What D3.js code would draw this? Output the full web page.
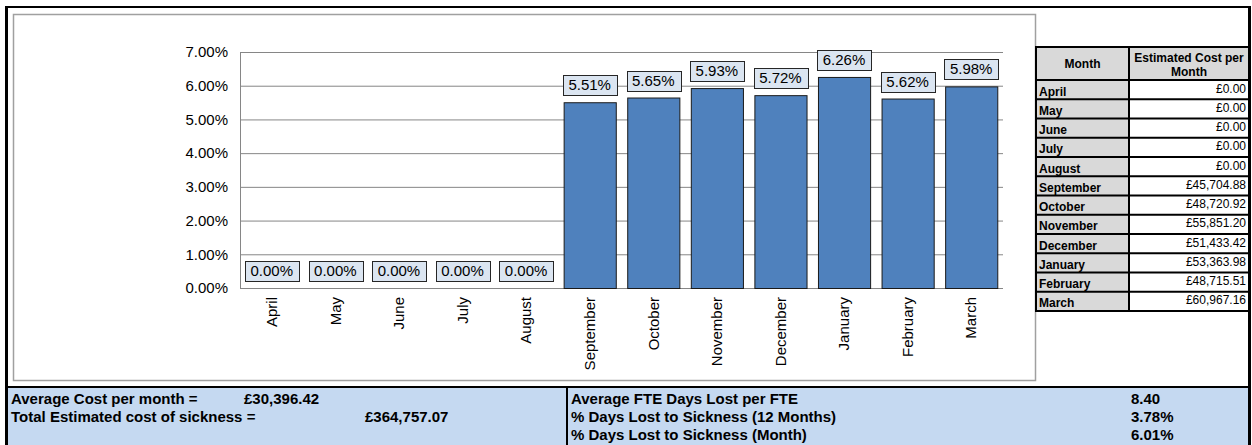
<!DOCTYPE html>
<html>
<head>
<meta charset="utf-8">
<script src="https://cdn.jsdelivr.net/npm/d3@7"></script>
<style>
  html, body { margin: 0; padding: 0; background: #fff; }
  svg { display: block; font-family: "Liberation Sans", Arial, sans-serif; }
</style>
</head>
<body>
<svg id="chart" width="1252" height="445"></svg>
<script>
// ---- data ----
const months = ["April","May","June","July","August","September","October","November","December","January","February","March"];
const sicknessPct = [0, 0, 0, 0, 0, 5.51, 5.65, 5.93, 5.72, 6.26, 5.62, 5.98];
const yTicks = [0, 1, 2, 3, 4, 5, 6, 7];
const monthlyCost = [0, 0, 0, 0, 0, 45704.88, 48720.92, 55851.20, 51433.42, 53363.98, 48715.51, 60967.16];
const tableHeaders = ["Month", ["Estimated Cost per", "Month"]];
const summaryLeftLabels = ["Average Cost per month =", "Total Estimated cost of sickness ="];
const summaryLeftValues = ["£30,396.42", "£364,757.07"];
const summaryRightLabels = ["Average FTE Days Lost per FTE", "% Days Lost to Sickness (12 Months)", "% Days Lost to Sickness (Month)"];
const summaryRightValues = ["8.40", "3.78%", "6.01%"];

const data = months.map((m, i) => ({ month: m, pct: sicknessPct[i], cost: monthlyCost[i] }));

const svg = d3.select("#chart");

// ---- frame ----
svg.append("rect").attr("x", 0).attr("y", 0).attr("width", 1252).attr("height", 445).attr("fill", "#fff");
// chart area
svg.append("rect").attr("x", 13.5).attr("y", 14.5).attr("width", 1022).attr("height", 366)
  .attr("fill", "#fff").attr("stroke", "#a0a0a0").attr("stroke-width", 1.5);

// ---- plot ----
const plot = { left: 240, right: 1003, top: 52, bottom: 288 };
const x = d3.scaleBand().domain(months).range([plot.left, plot.right]).paddingInner(0.18).paddingOuter(0.09);
const y = d3.scaleLinear().domain([0, 7]).range([plot.bottom, plot.top]);

// gridlines
svg.append("g")
  .attr("transform", `translate(${plot.left},0)`)
  .call(d3.axisLeft(y).tickValues(yTicks.filter(t => t > 0)).tickSize(-(plot.right - plot.left)).tickFormat(""))
  .call(g => g.select(".domain").remove())
  .call(g => g.selectAll("line").attr("stroke", "#868686").attr("stroke-width", 1));

// y axis labels
svg.append("g")
  .attr("transform", `translate(${plot.left},0)`)
  .call(d3.axisLeft(y).tickValues(yTicks).tickSize(0).tickPadding(12).tickFormat(d => d.toFixed(2) + "%"))
  .call(g => g.select(".domain").remove())
  .call(g => g.selectAll("text").attr("font-size", 15).attr("fill", "#000").attr("font-family", "Liberation Sans, Arial, sans-serif"));

// axis lines
svg.append("line").attr("x1", plot.left + 0.5).attr("x2", plot.left + 0.5).attr("y1", plot.top).attr("y2", plot.bottom)
  .attr("stroke", "#868686");
svg.append("line").attr("x1", plot.left).attr("x2", plot.right).attr("y1", plot.bottom + 0.5).attr("y2", plot.bottom + 0.5)
  .attr("stroke", "#868686");

// bars
svg.append("g").selectAll("rect").data(data).join("rect")
  .attr("x", d => x(d.month) + 0.5)
  .attr("y", d => y(d.pct) + 0.5)
  .attr("width", x.bandwidth())
  .attr("height", d => Math.max(0, y(0) - y(d.pct)))
  .attr("fill", "#4f81bd")
  .attr("stroke", "#1a1a1a")
  .attr("stroke-width", 1);

// data labels
const lbl = svg.append("g").selectAll("g").data(data).join("g");
lbl.each(function(d) {
  const g = d3.select(this);
  const cx = x(d.month) + x.bandwidth() / 2;
  const bottom = y(d.pct) - 7;
  const h = 20;
  const rect = g.append("rect");
  const t = g.append("text")
    .attr("x", cx).attr("y", bottom - 5)
    .attr("text-anchor", "middle").attr("font-size", 15).attr("fill", "#000")
    .text(d.pct.toFixed(2) + "%");
  const w = t.node().getComputedTextLength() + 11;
  rect.attr("x", Math.round(cx - w / 2) + 0.5).attr("y", Math.round(bottom - h) + 0.5)
    .attr("width", Math.round(w)).attr("height", h)
    .attr("fill", "#dbe5f1").attr("stroke", "#262626").attr("stroke-width", 1);
});

// x axis labels
svg.append("g")
  .attr("transform", `translate(0,${plot.bottom})`)
  .call(d3.axisBottom(x).tickSize(0).tickFormat(d => d))
  .call(g => g.select(".domain").remove())
  .call(g => g.selectAll("text")
    .attr("font-size", 15).attr("fill", "#000").attr("font-family", "Liberation Sans, Arial, sans-serif")
    .attr("text-anchor", "end")
    .attr("transform", "translate(0,9) rotate(-90)")
    .attr("x", 0).attr("y", 0).attr("dy", "0.35em"));

// ---- table ----
const tx0 = 1036, tx1 = 1129, tx2 = 1249;
const hy0 = 47, hy1 = 80, rowH = 19.25;
const ty = i => hy1 + i * rowH;
const tableBottom = ty(months.length);

svg.append("rect").attr("x", tx0).attr("y", hy0).attr("width", tx1 - tx0).attr("height", tableBottom - hy0).attr("fill", "#d9d9d9");
svg.append("rect").attr("x", tx1).attr("y", hy0).attr("width", tx2 - tx1).attr("height", hy1 - hy0).attr("fill", "#d9d9d9");
svg.append("rect").attr("x", tx1).attr("y", hy1).attr("width", tx2 - tx1).attr("height", tableBottom - hy1).attr("fill", "#fff");

const tbl = svg.append("g");
// horizontal lines
[hy0, ...d3.range(months.length + 1).map(ty)].forEach(yy => {
  tbl.append("line").attr("x1", tx0).attr("x2", tx2).attr("y1", yy).attr("y2", yy).attr("stroke", "#000").attr("stroke-width", 2);
});
[tx0, tx1, tx2].forEach(xx => {
  tbl.append("line").attr("x1", xx).attr("x2", xx).attr("y1", hy0 - 1).attr("y2", tableBottom + 1).attr("stroke", "#000").attr("stroke-width", 2);
});
tbl.append("text").attr("x", (tx0 + tx1) / 2).attr("y", 68).attr("text-anchor", "middle")
  .attr("font-size", 12).attr("font-weight", "bold").text(tableHeaders[0]);
tableHeaders[1].forEach((s, i) => {
  tbl.append("text").attr("x", (tx1 + tx2) / 2).attr("y", 62 + i * 14).attr("text-anchor", "middle")
    .attr("font-size", 12).attr("font-weight", "bold").text(s);
});
tbl.selectAll("text.m").data(data).join("text").attr("class", "m")
  .attr("x", tx0 + 3).attr("y", (d, i) => ty(i) + 15.5)
  .attr("font-size", 12).attr("font-weight", "bold").text(d => d.month);
const fmtCost = v => "£" + d3.format(",.2f")(v);
tbl.selectAll("text.v").data(data).join("text").attr("class", "v")
  .attr("x", tx2 - 3).attr("y", (d, i) => ty(i) + 12.5).attr("text-anchor", "end")
  .attr("font-size", 12).text(d => fmtCost(d.cost));

// ---- outer frame ----
svg.append("line").attr("x1", 6.5).attr("x2", 6.5).attr("y1", 6).attr("y2", 445).attr("stroke", "#000").attr("stroke-width", 3);
svg.append("line").attr("x1", 1249.5).attr("x2", 1249.5).attr("y1", 6).attr("y2", 445).attr("stroke", "#000").attr("stroke-width", 3);
svg.append("line").attr("x1", 5).attr("x2", 1251).attr("y1", 7).attr("y2", 7).attr("stroke", "#000").attr("stroke-width", 2);

// ---- bottom summary panel ----
svg.append("rect").attr("x", 8).attr("y", 388).attr("width", 1240).attr("height", 57).attr("fill", "#c5d9f1");
svg.append("line").attr("x1", 5).attr("x2", 1251).attr("y1", 387).attr("y2", 387).attr("stroke", "#000").attr("stroke-width", 2);
svg.append("line").attr("x1", 567).attr("x2", 567).attr("y1", 386).attr("y2", 445).attr("stroke", "#000").attr("stroke-width", 2);

const rowY = [404, 422, 440];
const sum = svg.append("g").attr("font-size", 15).attr("font-weight", "bold").attr("fill", "#000");
summaryLeftLabels.forEach((s, i) => sum.append("text").attr("x", 11).attr("y", rowY[i]).text(s));
const leftValX = [244, 365];
summaryLeftValues.forEach((s, i) => sum.append("text").attr("x", leftValX[i]).attr("y", rowY[i]).text(s));
summaryRightLabels.forEach((s, i) => sum.append("text").attr("x", 571).attr("y", rowY[i]).text(s));
summaryRightValues.forEach((s, i) => sum.append("text").attr("x", 1131).attr("y", rowY[i]).text(s));
</script>
</body>
</html>
